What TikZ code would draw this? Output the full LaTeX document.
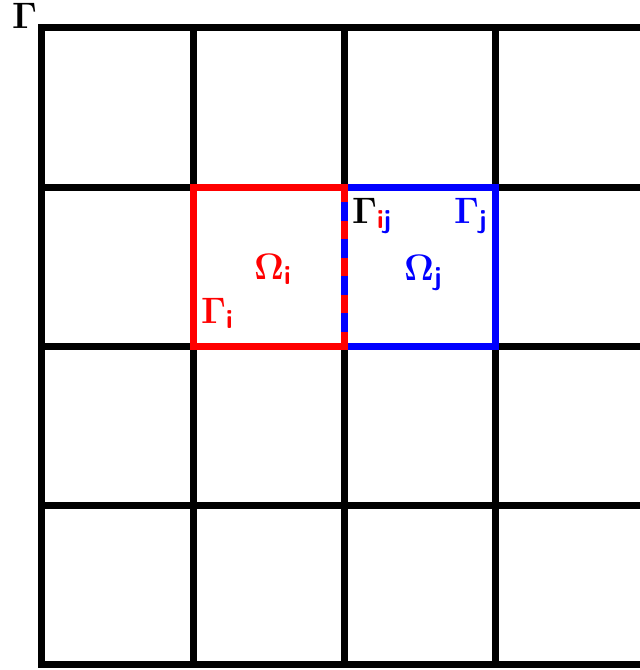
\RequirePackage{fix-cm}
\documentclass[tikz,border=0pt]{standalone}
\usepackage{amsmath}

\tikzset{
  gridline/.style={line width=7bp,black},
  sublbl/.style={inner sep=0pt,anchor=base west,font=\fontsize{37}{40}\selectfont\boldmath},
}

\begin{document}
\begin{tikzpicture}[x=1bp,y=-1bp]
    % page frame: the grid runs on past the right edge
    \clip (0,0) rectangle (640,670);

    % outer frame and interior lines of the grid
    \draw[gridline] (680,28) -- (41.5,28) -- (41.5,664) -- (680,664);
    \foreach \gx in {193,344.5,495.5}
        \draw[gridline] (\gx,28) -- (\gx,664);
    \foreach \gy in {187,346,505}
        \draw[gridline] (41.5,\gy) -- (680,\gy);

    % the two neighbouring subdomains
    \draw[line width=7bp,blue] (344.5,187) rectangle (495.5,346);
    \draw[line width=7bp,red] (193,187) rectangle (344.5,346);
    % shared interface in both colours
    \draw[line width=7bp,blue,dash pattern=on 19bp off 18bp,dash phase=22bp]
        (344.5,187) -- (344.5,346);

    \node[sublbl] (gamma) at (12,29) {$\Gamma$};
    \node[sublbl,text=red] (omegai) at (254,279) {$\Omega_{\mathsf{i}}$};
    \node[sublbl,text=red] (gammai) at (201,323) {$\Gamma_{\mathsf{i}}$};
    \node[sublbl] (gammaij) at (352,223)
        {$\Gamma_{\textcolor{red}{\mathsf{i}}\textcolor{blue}{\mathsf{j}}}$};
    \node[sublbl,text=blue] (gammaj) at (454,223) {$\Gamma_{\mathsf{j}}$};
    \node[sublbl,text=blue] (omegaj) at (404,280) {$\Omega_{\mathsf{j}}$};
\end{tikzpicture}
\end{document}
